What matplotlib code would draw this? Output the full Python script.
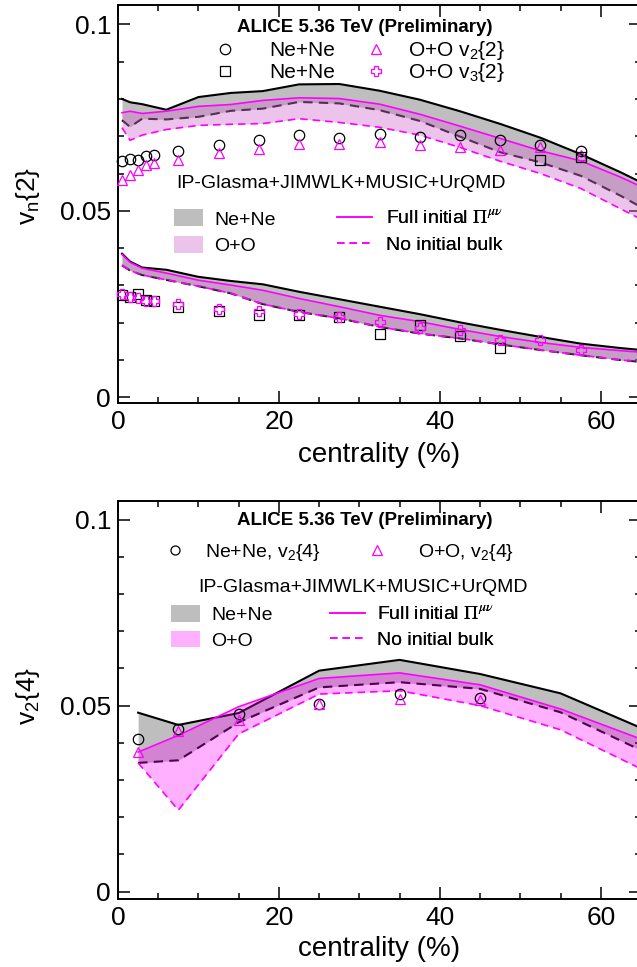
import matplotlib
matplotlib.use('Agg')
import matplotlib.pyplot as plt
from matplotlib.lines import Line2D
from matplotlib.patches import Patch

plt.rcParams['font.family'] = ['Liberation Sans', 'DejaVu Sans']
plt.rcParams['mathtext.fontset'] = 'custom'
plt.rcParams['mathtext.rm'] = 'Liberation Sans'
plt.rcParams['mathtext.it'] = 'Liberation Sans:italic'
plt.rcParams['mathtext.bf'] = 'Liberation Sans:bold'

# ---- top panel: vn{2} ----
cent_data = [0.5, 1.5, 2.5, 3.5, 4.5, 7.5, 12.5, 17.5, 22.5, 27.5, 32.5, 37.5, 42.5, 47.5, 52.5, 57.5]
ne_v22 = [0.0634, 0.0640, 0.0637, 0.0646, 0.0649, 0.0661, 0.0676, 0.0689, 0.0702, 0.0696,
          0.0705, 0.0697, 0.0703, 0.0689, 0.0676, 0.0660]
oo_v22 = [0.0582, 0.0595, 0.0609, 0.0622, 0.0627, 0.0637, 0.0654, 0.0667, 0.0679, 0.0680,
          0.0685, 0.0676, 0.0671, 0.0664, 0.0671, 0.0649]
cent_ne_v3 = [0.5, 1.5, 2.5, 3.5, 4.5, 7.5, 12.5, 17.5, 22.5, 27.5, 32.5, 37.5, 42.5, 47.5, 52.5, 57.5]
ne_v32 = [0.0274, 0.0270, 0.0276, 0.0261, 0.0259, 0.0243, 0.0231, 0.0220, 0.0222, 0.0216,
          0.0171, 0.0194, 0.0165, 0.0133, 0.0636, 0.0645]
oo_v32 = [0.0277, 0.0270, 0.0265, 0.0259, 0.0258, 0.0249, 0.0238, 0.0232, 0.0223, 0.0216,
          0.0203, 0.0186, 0.0180, 0.0153, 0.0155, 0.0127]

cent_model = [0.5, 1.5, 3, 6, 10, 14, 18, 22.5, 27.5, 32.5, 37.5, 42.5, 47.5, 52.5, 57.5, 62.5, 67.5]
ne_v2_full = [0.0800, 0.0791, 0.0786, 0.0771, 0.0805, 0.0816, 0.0821, 0.0839, 0.0840, 0.0822,
              0.0798, 0.0767, 0.0733, 0.0696, 0.0652, 0.0603, 0.0550]
ne_v2_nobulk = [0.0743, 0.0725, 0.0747, 0.0745, 0.0752, 0.0768, 0.0774, 0.0792, 0.0788, 0.0770,
                0.0741, 0.0699, 0.0657, 0.0630, 0.0594, 0.0540, 0.0480]
oo_v2_full = [0.0763, 0.0767, 0.0761, 0.0767, 0.0780, 0.0785, 0.0796, 0.0803, 0.0801, 0.0786,
              0.0759, 0.0727, 0.0694, 0.0661, 0.0634, 0.0590, 0.0540]
oo_v2_nobulk = [0.0723, 0.0689, 0.0703, 0.0718, 0.0729, 0.0732, 0.0734, 0.0747, 0.0737, 0.0724,
                0.0703, 0.0670, 0.0633, 0.0600, 0.0560, 0.0505, 0.0450]
ne_v3_full = [0.0385, 0.0364, 0.0348, 0.0342, 0.0323, 0.0312, 0.0303, 0.0283, 0.0263, 0.0243,
              0.0223, 0.0201, 0.0181, 0.0162, 0.0144, 0.0132, 0.0122]
ne_v3_nobulk = [0.0354, 0.0340, 0.0328, 0.0315, 0.0298, 0.0279, 0.0250, 0.0229, 0.0212, 0.0189,
                0.0171, 0.0158, 0.0142, 0.0127, 0.0113, 0.0100, 0.0090]
oo_v3_full = [0.0383, 0.0362, 0.0346, 0.0333, 0.0314, 0.0301, 0.0287, 0.0265, 0.0243, 0.0220,
              0.0203, 0.0182, 0.0163, 0.0147, 0.0134, 0.0125, 0.0117]
oo_v3_nobulk = [0.0354, 0.0340, 0.0328, 0.0315, 0.0298, 0.0279, 0.0250, 0.0229, 0.0212, 0.0189,
                0.0171, 0.0158, 0.0142, 0.0127, 0.0113, 0.0100, 0.0090]

# ---- bottom panel: v2{4} ----
cent_v24 = [2.5, 7.5, 15, 25, 35, 45]
ne_v24 = [0.0409, 0.0438, 0.0478, 0.0505, 0.0530, 0.0521]
oo_v24 = [0.0375, 0.0431, 0.0462, 0.0503, 0.0518, 0.0515]
cent_model4 = [2.5, 7.5, 15, 25, 35, 45, 55, 65]
ne_v24_full = [0.0481, 0.0448, 0.0480, 0.0594, 0.0623, 0.0585, 0.0533, 0.0440]
ne_v24_nobulk = [0.0346, 0.0353, 0.0455, 0.0549, 0.0563, 0.0545, 0.0482, 0.0380]
oo_v24_full = [0.0375, 0.0420, 0.0497, 0.0573, 0.0588, 0.0556, 0.0491, 0.0410]
oo_v24_nobulk = [0.0346, 0.0219, 0.0424, 0.0531, 0.0540, 0.0500, 0.0435, 0.0330]

GRAY = '#bebebe'
MAG = '#ff00ff'
DASH = (0, (4.5, 3))

fig = plt.figure(figsize=(6.37, 9.67), dpi=100)
ax1 = fig.add_axes([118 / 637, 1 - 403.3 / 967, 523 / 637, 398 / 967])
ax2 = fig.add_axes([118 / 637, 1 - 899 / 967, 523 / 637, 398.3 / 967])


def style_axes(ax, ylo):
    ax.set_xlim(0, 65)
    ax.set_ylim(ylo, 0.1051)
    ax.set_xticks([0, 20, 40, 60])
    ax.set_xticks(range(5, 65, 5), minor=True)
    ax.set_yticks([0, 0.05, 0.1], ['0', '0.05', '0.1'])
    ax.set_yticks([0.01, 0.02, 0.03, 0.04, 0.06, 0.07, 0.08, 0.09], minor=True)
    ax.tick_params(which='both', direction='in', top=True, right=True, width=1.1,
                   labelsize=19)
    ax.tick_params(which='major', length=8.6, pad=5)
    ax.tick_params(which='minor', length=4.5)
    for s in ax.spines.values():
        s.set_linewidth(1.4)


def draw_band(ax, x, ne_full, ne_nob, oo_full, oo_nob, pink, alpha):
    ax.fill_between(x, ne_nob, ne_full, color=GRAY, lw=0, zorder=1)
    ax.plot(x, ne_full, color='k', lw=1.5, zorder=2)
    ax.plot(x, ne_nob, color='k', lw=1.5, ls=DASH, zorder=2)
    ax.fill_between(x, oo_nob, oo_full, color=pink, alpha=alpha, lw=0, zorder=3)
    ax.plot(x, oo_full, color=MAG, lw=1.2, zorder=4)
    ax.plot(x, oo_nob, color=MAG, lw=1.2, ls=DASH, zorder=4)


def pts(ax, x, y, marker, color, ms=7.5):
    ax.plot(x, y, ls='none', marker=marker, ms=ms, mfc='none', mec=color, mew=0.9,
            zorder=6, clip_on=False)


def add_legend(ax, handles, labels, x, y, fs, hl, tp, ls, hh=0.7):
    leg = ax.legend(handles, labels, loc='upper left', bbox_to_anchor=(x, y), frameon=False,
                    fontsize=fs, handlelength=hl, handletextpad=tp, labelspacing=ls,
                    handleheight=hh, borderpad=0, borderaxespad=0)
    ax.add_artist(leg)
    return leg


def mk(marker, color, ms=7.5):
    return Line2D([], [], ls='none', marker=marker, ms=ms, mfc='none', mec=color, mew=0.9)


# top panel
style_axes(ax1, -0.0016)
ax1.set_xlabel('centrality (%)', fontsize=20, labelpad=5.5)
draw_band(ax1, cent_model, ne_v2_full, ne_v2_nobulk, oo_v2_full, oo_v2_nobulk, '#d070d0', 0.42)
draw_band(ax1, cent_model, ne_v3_full, ne_v3_nobulk, oo_v3_full, oo_v3_nobulk, '#d070d0', 0.42)
pts(ax1, cent_data, ne_v22, 'o', 'k')
pts(ax1, cent_data, oo_v22, '^', MAG)
pts(ax1, cent_ne_v3, ne_v32, 's', 'k')
pts(ax1, cent_data, oo_v32, 'P', MAG)
ax1.set_ylabel('v$_\\mathrm{n}${2}', fontsize=19)
ax1.yaxis.set_label_coords(-0.146, 0.52)

ax1.text(0.4713, 0.945, 'ALICE 5.36 TeV (Preliminary)', transform=ax1.transAxes,
         ha='center', va='center', fontsize=13.5, fontweight='bold')
add_legend(ax1, [mk('o', 'k'), mk('s', 'k')], ['Ne+Ne', 'Ne+Ne'],
           0.1807, 0.9095, 15, 1.2, 1.5, 0.15)
add_legend(ax1, [mk('^', MAG), mk('P', MAG)], ['O+O v$_2${2}', 'O+O v$_3${2}'],
           0.4688, 0.9155, 15, 1.2, 0.95, -0.05)
ax1.text(0.4264, 0.5535, 'IP-Glasma+JIMWLK+MUSIC+UrQMD', transform=ax1.transAxes,
         ha='center', va='center', fontsize=14)
add_legend(ax1, [Patch(facecolor=GRAY), Patch(facecolor='#d070d0', alpha=0.42)],
           ['Ne+Ne', 'O+O'], 0.1063, 0.487, 14, 1.49, 0.62, 0.38, 0.95)
lg = add_legend(ax1, [Line2D([], [], color=MAG, lw=1.2), Line2D([], [], color=MAG, lw=1.2, ls=DASH)],
                ['Full initial $\\Pi^{\\mu\\nu}$', 'No initial bulk'], 0.4193, 0.486, 14, 1.8, 0.7, 0.43)
lg.get_texts()[0].set_math_fontfamily('stix')

# bottom panel
style_axes(ax2, -0.002)
ax2.set_xlabel('centrality (%)', fontsize=20, labelpad=4.5)
draw_band(ax2, cent_model4, ne_v24_full, ne_v24_nobulk, oo_v24_full, oo_v24_nobulk, MAG, 0.31)
pts(ax2, cent_v24, ne_v24, 'o', 'k')
pts(ax2, cent_v24, oo_v24, '^', MAG)
ax2.set_ylabel('v$_2${4}', fontsize=19)
ax2.yaxis.set_label_coords(-0.146, 0.51)

ax2.text(0.4713, 0.9498, 'ALICE 5.36 TeV (Preliminary)', transform=ax2.transAxes,
         ha='center', va='center', fontsize=13.5, fontweight='bold')
add_legend(ax2, [mk('o', 'k', 6.5)], ['Ne+Ne, v$_2${4}'], 0.0899, 0.8964, 14, 1.0, 1.04, 0)
add_legend(ax2, [mk('^', MAG, 6.5)], ['O+O, v$_2${4}'], 0.476, 0.8964, 14, 1.0, 1.65, 0)
ax2.text(0.4684, 0.7826, 'IP-Glasma+JIMWLK+MUSIC+UrQMD', transform=ax2.transAxes,
         ha='center', va='center', fontsize=14)
add_legend(ax2, [Patch(facecolor=GRAY), Patch(facecolor=MAG, alpha=0.31)],
           ['Ne+Ne', 'O+O'], 0.1013, 0.738, 14, 1.49, 0.58, 0.33, 0.95)
lg = add_legend(ax2, [Line2D([], [], color=MAG, lw=1.2), Line2D([], [], color=MAG, lw=1.2, ls=DASH)],
                ['Full initial $\\Pi^{\\mu\\nu}$', 'No initial bulk'], 0.4044, 0.7357, 14, 1.81, 0.65, 0.38)
lg.get_texts()[0].set_math_fontfamily('stix')

fig.savefig('out.png', dpi=100)
